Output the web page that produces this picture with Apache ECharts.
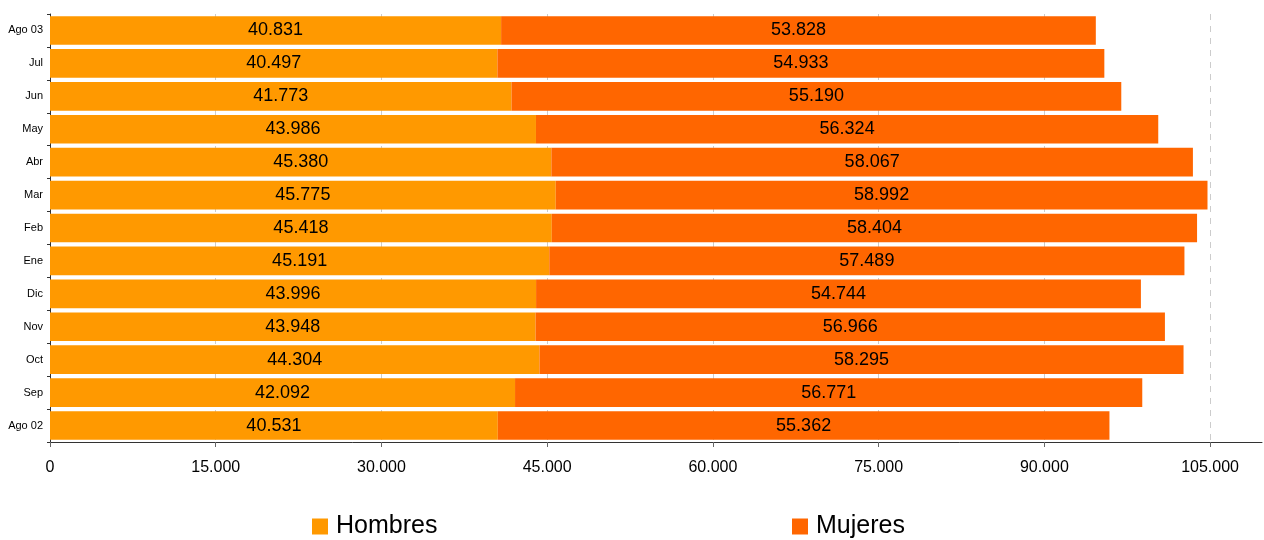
<!DOCTYPE html>
<html><head><meta charset="utf-8">
<script src="https://cdn.jsdelivr.net/npm/echarts@6/dist/echarts.min.js"></script>
<style>html,body{margin:0;padding:0;background:#fff}#c{width:1264px;height:540px}</style>
</head><body><div id="c"></div>
<script>
const categories = ['Ago 02','Sep','Oct','Nov','Dic','Ene','Feb','Mar','Abr','May','Jun','Jul','Ago 03'];
const hombres = [40531,42092,44304,43948,43996,45191,45418,45775,45380,43986,41773,40497,40831];
const mujeres = [55362,56771,58295,56966,54744,57489,58404,58992,58067,56324,55190,54933,53828];
const seriesNames = ['Hombres','Mujeres'];

function fmt(v){return String(Math.round(v)).replace(/\B(?=(\d{3})+(?!\d))/g,'.');}
const FONT = 'Liberation Sans, Arial, sans-serif';
const chart = echarts.init(document.getElementById('c'));
const legendText = {fontSize:25,color:'#000',fontFamily:FONT,padding:[2,0,0,3]};
chart.setOption({
  animation:false,
  textStyle:{fontFamily:FONT},
  grid:{left:50,right:2,top:14,bottom:98,containLabel:false},
  legend:[
    {data:[seriesNames[0]],left:307,top:509,icon:'rect',itemWidth:16,itemHeight:16,itemGap:5,textStyle:legendText},
    {data:[seriesNames[1]],left:787,top:509,icon:'rect',itemWidth:16,itemHeight:16,itemGap:5,textStyle:legendText}
  ],
  xAxis:{type:'value',min:0,max:109700,interval:15000,
    axisLine:{show:true,lineStyle:{color:'#333',width:1}},
    axisTick:{show:true,length:5,lineStyle:{color:'#666'}},
    axisLabel:{fontSize:16,color:'#000',margin:18,showMaxLabel:false,
      formatter:function(v){return v%15000===0?fmt(v):'';}},
    splitLine:{show:true,showMaxLine:false,showMinLine:false,lineStyle:{color:'#ccc',type:[6,6],width:1}}
  },
  yAxis:{type:'category',data:categories,
    axisLine:{show:true,lineStyle:{color:'#333',width:1}},
    axisTick:{show:true,length:3,lineStyle:{color:'#333'}},
    axisLabel:{fontSize:11,color:'#000',margin:7},
    splitLine:{show:false}
  },
  series:[
    {name:seriesNames[0],type:'bar',stack:'t',data:hombres,barCategoryGap:'13%',
     itemStyle:{color:'#FF9900'},
     label:{show:true,position:'inside',fontSize:18,color:'#000',fontFamily:FONT,formatter:p=>fmt(p.value)}},
    {name:seriesNames[1],type:'bar',stack:'t',data:mujeres,barCategoryGap:'13%',
     itemStyle:{color:'#FF6600'},
     label:{show:true,position:'inside',fontSize:18,color:'#000',fontFamily:FONT,formatter:p=>fmt(p.value)}}
  ]
});
</script></body></html>
